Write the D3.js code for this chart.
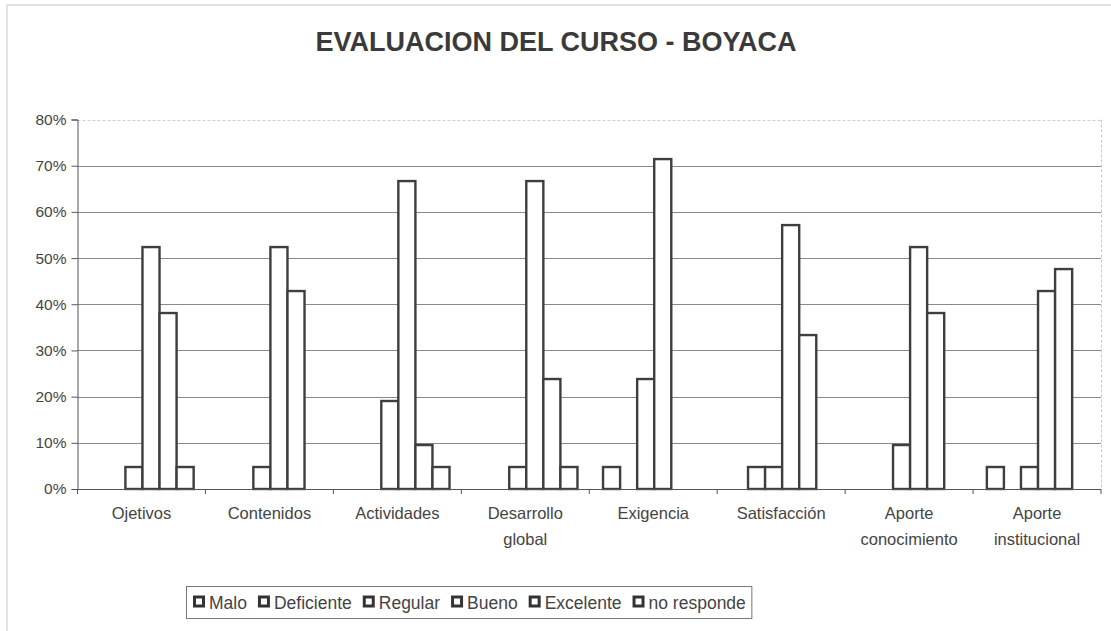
<!DOCTYPE html>
<html>
<head>
<meta charset="utf-8">
<script src="https://cdn.jsdelivr.net/npm/d3@7"></script>
<style>
  html, body { margin: 0; padding: 0; background: #fff; }
  svg { display: block; font-family: "Liberation Sans", Arial, sans-serif; }
</style>
</head>
<body>
<svg id="chart" width="1111" height="631"></svg>
<script>
const title = "EVALUACION DEL CURSO - BOYACA";
const categories = [
  ["Ojetivos"], ["Contenidos"], ["Actividades"], ["Desarrollo", "global"],
  ["Exigencia"], ["Satisfacción"], ["Aporte", "conocimiento"], ["Aporte", "institucional"]
];
const seriesNames = ["Malo", "Deficiente", "Regular", "Bueno", "Excelente", "no responde"];
const malo       = [0, 0, 0, 0, 4.76, 0, 0, 4.76];
const deficiente = [0, 0, 0, 0, 0, 4.76, 0, 0];
const regular    = [4.76, 4.76, 19.05, 4.76, 23.81, 4.76, 9.52, 4.76];
const bueno      = [52.38, 52.38, 66.67, 66.67, 71.43, 57.14, 52.38, 42.86];
const excelente  = [38.10, 42.86, 9.52, 23.81, 0, 33.33, 38.10, 47.62];
const noResponde = [4.76, 0, 4.76, 4.76, 0, 0, 0, 0];
const seriesValues = [malo, deficiente, regular, bueno, excelente, noResponde];
const yTicks = [0, 10, 20, 30, 40, 50, 60, 70, 80];

(function () {
const svg = d3.select("#chart");
const pL = 77.5, pR = 1101, pT = 119.5, pB = 489;
const catKeys = categories.map(c => c.join(" "));

const x0 = d3.scaleBand().domain(catKeys).range([pL, pR]).paddingInner(0).paddingOuter(0);
const x1 = d3.scaleBand().domain(seriesNames).range([0, x0.bandwidth()]).paddingInner(0).paddingOuter(0.75);
const y = d3.scaleLinear().domain([0, 80]).range([pB, pT]);

// outer chart border (faint)
svg.append("path").attr("d", "M7,631 L7,5 L1111,5")
  .attr("fill", "none").attr("stroke", "#c8c8c8").attr("stroke-width", 1);

// title
svg.append("text").attr("x", 556).attr("y", 51).attr("text-anchor", "middle")
  .attr("font-size", 27).attr("font-weight", "bold").attr("fill", "#3a3a3a").text(title);

// gridlines
svg.append("g").selectAll("line").data(yTicks.filter(t => t > 0)).join("line")
  .attr("x1", pL).attr("x2", pR)
  .attr("y1", d => Math.round(y(d)) + 0.5).attr("y2", d => Math.round(y(d)) + 0.5)
  .attr("stroke", d => d === 80 ? "#cfcfcf" : "#8a8a8a")
  .attr("stroke-dasharray", d => d === 80 ? "3,2" : null)
  .attr("stroke-width", 1);

// plot right border (faint dotted)
svg.append("line").attr("x1", pR + 0.5).attr("x2", pR + 0.5).attr("y1", y(80)).attr("y2", pB)
  .attr("stroke", "#c8c8c8").attr("stroke-dasharray", "3,2");

// y axis
const yAxis = d3.axisLeft(y).tickValues(yTicks).tickFormat(d => d + "%").tickSize(6).tickPadding(5);
const gy = svg.append("g").attr("transform", `translate(${pL},0)`).call(yAxis);
gy.select(".domain").attr("stroke", "#555");
gy.selectAll(".tick line").attr("stroke", "#555");
gy.selectAll(".tick text").attr("font-size", 15.5).attr("fill", "#444")
  .attr("font-family", "Liberation Sans, Arial, sans-serif");

// bars
const groups = svg.append("g").selectAll("g").data(catKeys).join("g")
  .attr("transform", d => `translate(${x0(d)},0)`);
groups.selectAll("rect")
  .data((d, i) => seriesNames.map((s, j) => ({ s, v: seriesValues[j][i] })).filter(e => e.v > 0))
  .join("rect")
  .attr("x", d => x1(d.s) + 1)
  .attr("width", x1.bandwidth())
  .attr("y", d => y(d.v))
  .attr("height", d => pB - y(d.v))
  .attr("fill", "#fff").attr("stroke", "#3e3e3e").attr("stroke-width", 2.4);

// x axis
const xAxisLine = svg.append("g");
xAxisLine.append("line").attr("x1", pL).attr("x2", pR).attr("y1", pB + 0.5).attr("y2", pB + 0.5)
  .attr("stroke", "#555");
const edges = catKeys.map(k => x0(k)).concat([pR]);
xAxisLine.selectAll("line.tk").data(edges).join("line").attr("class", "tk")
  .attr("x1", d => d).attr("x2", d => d).attr("y1", pB).attr("y2", pB + 5)
  .attr("stroke", "#555");

// x labels
const xl = svg.append("g").selectAll("text").data(categories).join("text")
  .attr("x", (d, i) => x0(catKeys[i]) + x0.bandwidth() / 2)
  .attr("y", 519).attr("text-anchor", "middle").attr("font-size", 16.5).attr("fill", "#444");
xl.selectAll("tspan").data(d => d).join("tspan")
  .attr("x", function () { return d3.select(this.parentNode).attr("x"); })
  .attr("dy", (d, i) => i === 0 ? 0 : 26).text(d => d);

// legend
const lg = svg.append("g");
const fs = 17.5;
let cx = 193;
const items = [];
const tmp = svg.append("text").attr("font-size", fs);
seriesNames.forEach(n => {
  tmp.text(n);
  const w = tmp.node().getComputedTextLength();
  items.push({ n, x: cx, w });
  cx += 12 + 4 + w + 11;
});
tmp.remove();
const boxL = 186.5, boxR = cx - 11 + 6;
lg.append("rect").attr("x", boxL).attr("y", 586.5).attr("width", boxR - boxL).attr("height", 32)
  .attr("fill", "#fff").attr("stroke", "#777").attr("stroke-width", 1);
items.forEach(it => {
  lg.append("rect").attr("x", it.x + 1.5).attr("y", 597).attr("width", 9).attr("height", 9)
    .attr("fill", "#fff").attr("stroke", "#333").attr("stroke-width", 3);
  lg.append("text").attr("x", it.x + 16).attr("y", 608.5).attr("font-size", fs).attr("fill", "#444").text(it.n);
});
})();
</script>
</body>
</html>
